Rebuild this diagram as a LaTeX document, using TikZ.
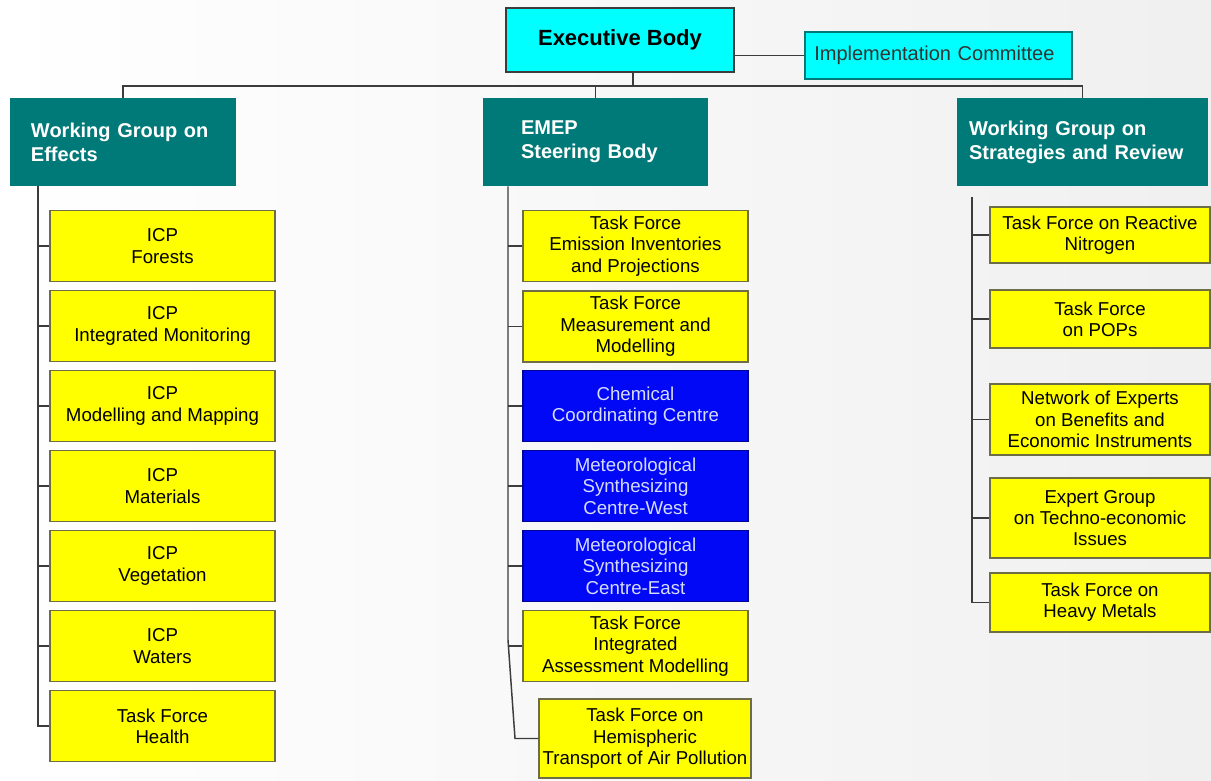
\documentclass[tikz,border=0pt]{standalone}
\usepackage{fontspec}
\setmainfont{Liberation Sans}
\usepackage{tikz}

\definecolor{execcyan}{RGB}{0,255,255}
\definecolor{wgteal}{RGB}{0,122,120}
\definecolor{tfyellow}{RGB}{255,255,0}
\definecolor{ccblue}{RGB}{0,8,245}
\definecolor{ccwhite}{RGB}{215,220,255}
\definecolor{linegray}{RGB}{60,60,60}
\definecolor{edgeolive}{RGB}{110,110,70}

\tikzset{
  ybox/.style={draw=edgeolive, line width=1pt, fill=tfyellow, inner sep=2pt, align=center,
    minimum width=168.75pt, minimum height=53.25pt, font=\fontsize{14}{16}\selectfont},
  bbox/.style={ybox, draw=ccblue!60!black, fill=ccblue, text=ccwhite},
  wgbox/.style={fill=wgteal, text=white, align=left, minimum height=66pt,
    font=\fontsize{15}{18}\selectfont\bfseries},
  link/.style={draw=linegray, line width=1.1pt},
}

\begin{document}
\begin{tikzpicture}[x=0.75pt,y=0.75pt,yscale=-1]
\useasboundingbox (0,0) rectangle (1211,781);
%Background
\shade [left color=white, right color=black!6] (0,0) rectangle (1211,781);

%Top level
\node [draw=linegray, line width=1.2pt, fill=execcyan, minimum width=171pt, minimum height=48pt,
  font=\fontsize{16.5}{19}\selectfont\bfseries] (exec) at (620,40) {Executive Body};
\node [draw=wgteal, line width=0.8pt, fill=execcyan, text=black!80, align=left, inner xsep=7pt,
  text width=186.25pt, minimum height=35.25pt, font=\fontsize{15}{18}\selectfont] (impl) at (938.5,55.5) {Implementation Committee};

%Working groups
\node [wgbox, inner xsep=15.75pt, text width=138pt] (effects) at (123,142) {Working Group on\\Effects};
\node [wgbox, inner xsep=28.5pt, text width=111.75pt] (emep) at (595.5,142) {EMEP\\Steering Body};
\node [wgbox, inner xsep=9pt, text width=170.25pt] (strategies) at (1082.5,142) {Working Group on\\Strategies and Review};

%Effects column
\node [ybox] (forests) at (162.5,246) {ICP\\Forests};
\node [ybox] (monitoring) at (162.5,326) {ICP\\Integrated Monitoring};
\node [ybox] (mapping) at (162.5,406) {ICP\\Modelling and Mapping};
\node [ybox] (materials) at (162.5,486) {ICP\\Materials};
\node [ybox] (vegetation) at (162.5,566) {ICP\\Vegetation};
\node [ybox] (waters) at (162.5,646) {ICP\\Waters};
\node [ybox] (health) at (162.5,726) {Task Force\\Health};

%EMEP column
\node [ybox] (inventories) at (635.5,246) {Task Force\\Emission Inventories\\and Projections};
\node [ybox] (measurement) at (635.5,326.5) {Task Force\\Measurement and\\Modelling};
\node [bbox] (chemical) at (635.5,406) {Chemical\\Coordinating Centre};
\node [bbox] (mscwest) at (635.5,486) {Meteorological\\Synthesizing\\Centre-West};
\node [bbox] (msceast) at (635.5,566) {Meteorological\\Synthesizing\\Centre-East};
\node [ybox] (assessment) at (635.5,646) {Task Force\\Integrated\\Assessment Modelling};
\node [ybox, minimum width=159pt, minimum height=59.25pt] (hemispheric) at (645,738.5) {Task Force on\\Hemispheric\\Transport of Air Pollution};

%Strategies column
\node [ybox, minimum width=165pt, minimum height=42pt] (nitrogen) at (1100,235) {Task Force on Reactive\\Nitrogen};
\node [ybox, minimum width=165pt, minimum height=43.5pt] (pops) at (1100,319) {Task Force\\on POPs};
\node [ybox, minimum width=165pt, minimum height=53.25pt] (benefits) at (1100,419.5) {Network of Experts\\on Benefits and\\Economic Instruments};
\node [ybox, minimum width=165pt, minimum height=60pt] (techno) at (1100,518) {Expert Group\\on Techno-economic\\Issues};
\node [ybox, minimum width=165pt, minimum height=44.25pt] (metals) at (1100,602.5) {Task Force on\\Heavy Metals};

%Spine coordinates
\coordinate (bus) at (0,86);
\coordinate (effspine) at (38,0);
\coordinate (emspine) at (508,0);
\coordinate (bend) at (508,640);
\coordinate (kink) at (515,0);
\coordinate (stspine) at (972,197);

%Top connectors
\draw [link] (impl.west -| exec.east) -- (impl.west);
\draw [link] ([xshift=9.75pt]exec.south) -- ([xshift=9.75pt]exec.south |- bus);
\draw [link] (effects.north) -- (effects.north |- bus) -| (strategies.north);
\draw [link] (emep.north |- bus) -- (emep.north);

%Effects connectors
\draw [link] (effects.south -| effspine) |- (health.west);
\draw [link] (forests.west -| effspine) -- (forests.west);
\draw [link] (monitoring.west -| effspine) -- (monitoring.west);
\draw [link] (mapping.west -| effspine) -- (mapping.west);
\draw [link] (materials.west -| effspine) -- (materials.west);
\draw [link] (vegetation.west -| effspine) -- (vegetation.west);
\draw [link] (waters.west -| effspine) -- (waters.west);

%EMEP connectors
\draw [link] (emep.south -| emspine) -- (bend) -- (hemispheric.west -| kink) -- (hemispheric.west);
\draw [link] (inventories.west -| emspine) -- (inventories.west);
\draw [link] (measurement.west -| emspine) -- (measurement.west);
\draw [link] (chemical.west -| emspine) -- (chemical.west);
\draw [link] (mscwest.west -| emspine) -- (mscwest.west);
\draw [link] (msceast.west -| emspine) -- (msceast.west);
\draw [link] (assessment.west -| emspine) -- (assessment.west);

%Strategies connectors
\draw [link] (stspine) |- (metals.west);
\draw [link] (nitrogen.west -| stspine) -- (nitrogen.west);
\draw [link] (pops.west -| stspine) -- (pops.west);
\draw [link] (benefits.west -| stspine) -- (benefits.west);
\draw [link] (techno.west -| stspine) -- (techno.west);
\end{tikzpicture}
\end{document}
